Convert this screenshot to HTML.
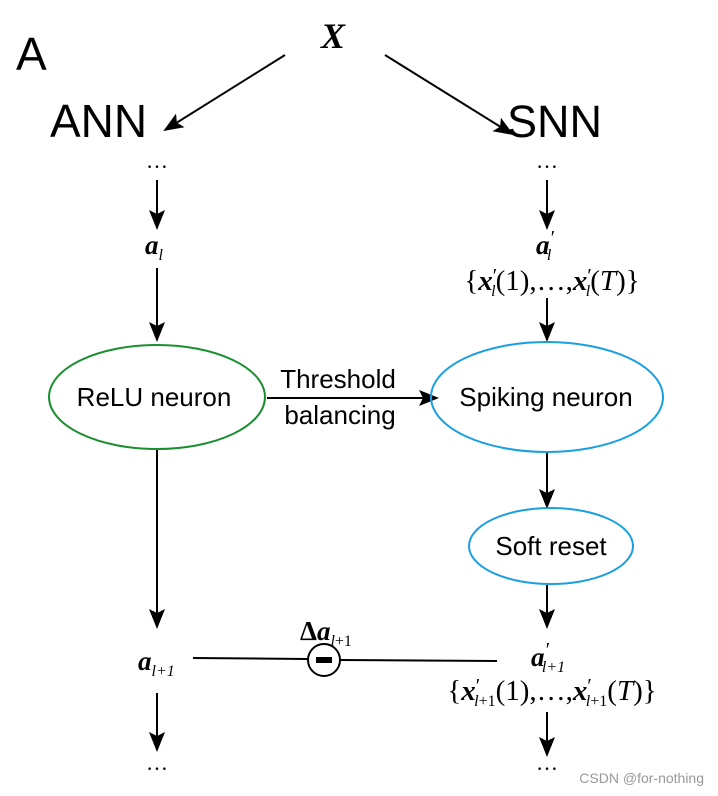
<!DOCTYPE html>
<html><head><style>body{margin:0;background:#fff}svg{display:block}</style></head><body>
<svg width="718" height="796" viewBox="0 0 718 796" xmlns="http://www.w3.org/2000/svg">
<defs>
<marker id="a2" markerWidth="20" markerHeight="20" refX="18" refY="10" orient="auto" markerUnits="userSpaceOnUse" viewBox="0 0 20 20"><path d="M0,2 L20,10 L0,18 L4,10 z" fill="#000"/></marker></defs>
<g font-family="Liberation Sans, sans-serif" fill="#000">
<text x="16" y="70" font-size="46">A</text>
<text x="50" y="137" font-size="46">ANN</text>
<text x="507" y="137" font-size="45">SNN</text>
</g>
<g font-family="Liberation Serif, serif">
<text x="333" y="48" font-size="36" font-style="italic" font-weight="bold" text-anchor="middle">X</text>
<text x="157" y="168" font-size="22" text-anchor="middle">…</text>
<text x="547" y="168" font-size="22" text-anchor="middle">…</text>
<text x="157" y="770" font-size="22" text-anchor="middle">…</text>
<text x="547" y="770" font-size="22" text-anchor="middle">…</text>
<text x="145" y="254" font-size="27" font-style="italic" font-weight="bold">a<tspan font-size="16" font-weight="normal" dy="6">l</tspan></text>
<text x="536" y="254" font-size="27" font-style="italic" font-weight="bold">a<tspan font-weight="normal" dy="-10" font-size="20">′</tspan><tspan font-size="16" font-weight="normal" dy="16" dx="-7">l</tspan></text>
<text x="552" y="290" font-size="29" text-anchor="middle">{<tspan font-style="italic" font-weight="bold">x</tspan><tspan font-size="20" dy="-8">′</tspan><tspan font-style="italic" font-size="16" dy="14" dx="-6">l</tspan><tspan dy="-6">(1),…,</tspan><tspan font-style="italic" font-weight="bold">x</tspan><tspan font-size="20" dy="-8">′</tspan><tspan font-style="italic" font-size="16" dy="14" dx="-6">l</tspan><tspan dy="-6">(</tspan><tspan font-style="italic">T</tspan>)}</text>
<text x="138" y="670" font-size="27" font-style="italic" font-weight="bold">a<tspan font-size="16" font-weight="normal" dy="6"><tspan font-style="italic">l</tspan>+1</tspan></text>
<text x="300" y="640" font-size="27" font-weight="bold">Δ<tspan font-style="italic">a</tspan><tspan font-size="16" font-weight="normal" dy="6"><tspan font-style="italic">l</tspan>+1</tspan></text>
<text x="531" y="666" font-size="27" font-style="italic" font-weight="bold">a<tspan font-weight="normal" dy="-10" font-size="20">′</tspan><tspan font-size="16" font-weight="normal" dy="16" dx="-7"><tspan font-style="italic">l</tspan>+1</tspan></text>
<text x="552" y="700" font-size="29" text-anchor="middle">{<tspan font-style="italic" font-weight="bold">x</tspan><tspan font-size="20" dy="-8">′</tspan><tspan font-size="16" dy="14" dx="-6"><tspan font-style="italic">l</tspan>+1</tspan><tspan dy="-6">(1),…,</tspan><tspan font-style="italic" font-weight="bold">x</tspan><tspan font-size="20" dy="-8">′</tspan><tspan font-size="16" dy="14" dx="-6"><tspan font-style="italic">l</tspan>+1</tspan><tspan dy="-6">(</tspan><tspan font-style="italic">T</tspan>)}</text>
</g>
<g stroke="#000" stroke-width="2" fill="none" marker-end="url(#a2)">
<line x1="285" y1="55" x2="165" y2="130"/>
<line x1="385" y1="55" x2="512" y2="134"/>
<line x1="157" y1="180" x2="157" y2="228"/>
<line x1="547" y1="180" x2="547" y2="228"/>
<line x1="157" y1="268" x2="157" y2="340"/>
<line x1="547" y1="298" x2="547" y2="340"/>
<line x1="267" y1="398" x2="437" y2="398"/>
<line x1="547" y1="453" x2="547" y2="507"/>
<line x1="547" y1="585" x2="547" y2="627"/>
<line x1="157" y1="450" x2="157" y2="627"/>
<line x1="157" y1="693" x2="157" y2="750"/>
<line x1="547" y1="712" x2="547" y2="755"/>
</g>
<g stroke="#000" stroke-width="2" fill="none">
<line x1="193" y1="658" x2="308" y2="659"/>
<line x1="340" y1="660" x2="497" y2="661"/>
<circle cx="324" cy="660" r="16"/>
</g>
<rect x="316" y="657" width="16" height="6" fill="#000"/>
<ellipse cx="157" cy="397" rx="108" ry="52" fill="none" stroke="#1a8f2e" stroke-width="2"/>
<ellipse cx="547" cy="397" rx="116" ry="55" fill="none" stroke="#1a9fe0" stroke-width="2"/>
<ellipse cx="551" cy="546" rx="82" ry="38" fill="none" stroke="#1a9fe0" stroke-width="2"/>
<g font-family="Liberation Sans, sans-serif" font-size="26" text-anchor="middle" fill="#000">
<text x="154" y="406">ReLU neuron</text>
<text x="546" y="406">Spiking neuron</text>
<text x="551" y="555">Soft reset</text>
<text x="338" y="388">Threshold</text>
<text x="340" y="424">balancing</text>
</g>
<text x="704" y="783" font-family="Liberation Sans, sans-serif" font-size="14" fill="#999" text-anchor="end">CSDN @for-nothing</text>
</svg>
</body></html>
